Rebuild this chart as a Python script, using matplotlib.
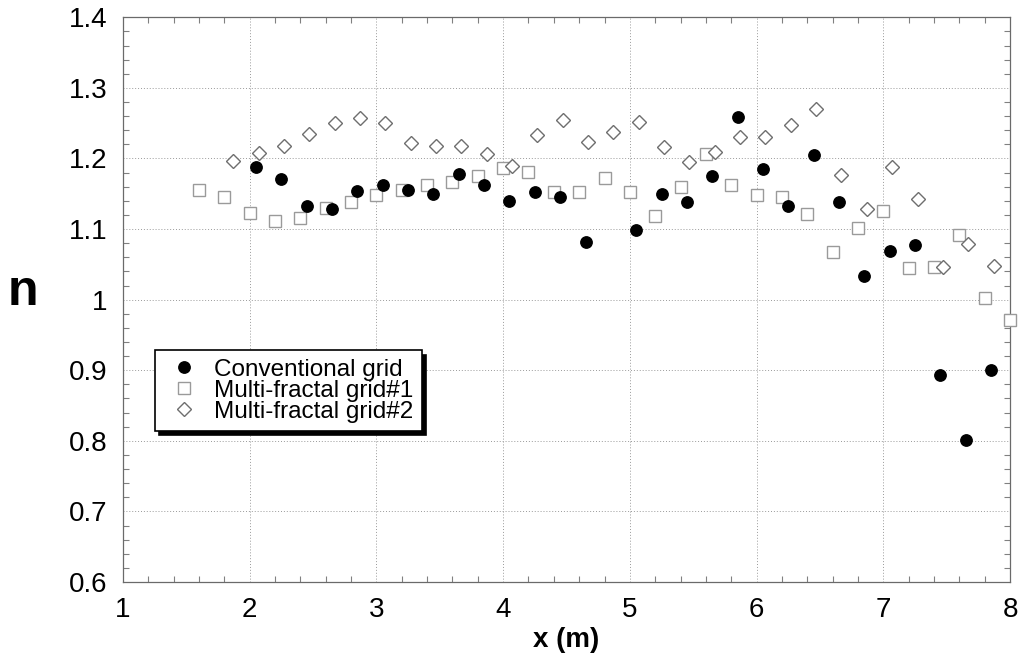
import numpy as np
import matplotlib.pyplot as plt
from matplotlib.ticker import MultipleLocator

plt.rcParams['font.family'] = ['Liberation Sans', 'DejaVu Sans']

# Conventional grid (x = 2.05 .. 7.85, no point at 4.85)
x_conv = [2.05, 2.25, 2.45, 2.65, 2.85, 3.05, 3.25, 3.45, 3.65, 3.85,
          4.05, 4.25, 4.45, 4.65, 5.05, 5.25, 5.45, 5.65, 5.85, 6.05,
          6.25, 6.45, 6.65, 6.85, 7.05, 7.25, 7.45, 7.65, 7.85]
n_conv = [1.188, 1.171, 1.133, 1.129, 1.154, 1.162, 1.156, 1.149, 1.178, 1.163,
          1.140, 1.152, 1.146, 1.082, 1.099, 1.150, 1.138, 1.175, 1.259, 1.185,
          1.132, 1.205, 1.139, 1.033, 1.069, 1.077, 0.893, 0.801, 0.900]

# Multi-fractal grid #1 (x = 1.6 .. 8.0)
x_mf1 = [1.6, 1.8, 2.0, 2.2, 2.4, 2.6, 2.8, 3.0, 3.2, 3.4, 3.6,
         3.8, 4.0, 4.2, 4.4, 4.6, 4.8, 5.0, 5.2, 5.4, 5.6, 5.8,
         6.0, 6.2, 6.4, 6.6, 6.8, 7.0, 7.2, 7.4, 7.6, 7.8, 8.0]
n_mf1 = [1.155, 1.145, 1.123, 1.112, 1.115, 1.130, 1.138, 1.148, 1.156, 1.162, 1.166,
         1.175, 1.187, 1.181, 1.152, 1.152, 1.173, 1.153, 1.119, 1.160, 1.206, 1.162,
         1.148, 1.145, 1.122, 1.068, 1.101, 1.125, 1.045, 1.046, 1.092, 1.002, 0.971]

# Multi-fractal grid #2 (x = 1.87 .. 7.87)
x_mf2 = [1.87, 2.07, 2.27, 2.47, 2.67, 2.87, 3.07, 3.27, 3.47, 3.67, 3.87,
         4.07, 4.27, 4.47, 4.67, 4.87, 5.07, 5.27, 5.47, 5.67, 5.87,
         6.07, 6.27, 6.47, 6.67, 6.87, 7.07, 7.27, 7.47, 7.67, 7.87]
n_mf2 = [1.197, 1.208, 1.217, 1.234, 1.250, 1.257, 1.250, 1.222, 1.217, 1.217, 1.206,
         1.190, 1.233, 1.254, 1.224, 1.237, 1.252, 1.216, 1.195, 1.209, 1.231,
         1.230, 1.248, 1.270, 1.177, 1.129, 1.188, 1.142, 1.046, 1.079, 1.048]

fig = plt.figure(figsize=(10.19, 6.64), dpi=100)
ax = fig.add_axes([0.1207, 0.1235, 0.8705, 0.8505])

ax.plot(x_conv, n_conv, 'o', ms=8.2, color='black', mec='black',
        label='Conventional grid', zorder=4, clip_on=False)
ax.plot(x_mf1, n_mf1, 's', ms=8.0, mfc='white', mec='#9a9a9a', mew=1.0,
        label='Multi-fractal grid#1', zorder=3, clip_on=False)
ax.plot(x_mf2, n_mf2, 'D', ms=7.4, mfc='white', mec='#6e6e6e', mew=1.0,
        label='Multi-fractal grid#2', zorder=3, clip_on=False)

ax.set_xlim(1, 8)
ax.set_ylim(0.6, 1.4)
ax.xaxis.set_major_locator(MultipleLocator(1))
ax.xaxis.set_minor_locator(MultipleLocator(0.2))
ax.yaxis.set_minor_locator(MultipleLocator(0.02))
ax.set_yticks(np.arange(0.6, 1.41, 0.1))
ax.set_yticklabels(['0.6', '0.7', '0.8', '0.9', '1', '1.1', '1.2', '1.3', '1.4'])

ax.grid(True, which='major', color='#9a9a9a', linestyle=(0, (1, 2)), linewidth=0.7)
ax.tick_params(which='both', direction='in', top=True, right=True,
               color='#808080', width=0.8)
ax.tick_params(which='major', length=0, labelsize=20, pad=11)
ax.tick_params(which='minor', length=4)
for s in ax.spines.values():
    s.set_color('#6a6a6a')
    s.set_linewidth(0.9)

ax.set_xlabel('x (m)', fontsize=20, fontweight='bold', labelpad=3)
fig.text(0.023, 0.56, 'n', fontsize=36, fontweight='bold', ha='center', va='center')

# boxed legend with a solid black drop shadow
leg = ax.legend(loc='upper left', bbox_to_anchor=(0.036, 0.41), borderaxespad=0,
                fontsize=17.5, frameon=True, fancybox=False, edgecolor='black',
                handletextpad=0.4, labelspacing=-0.05, borderpad=0.35,
                handlelength=1.7,
                shadow={'color': 'black', 'alpha': 1.0, 'ox': 3, 'oy': -3})
leg.get_frame().set_linewidth(1.2)

fig.savefig('out.png', dpi=100)
